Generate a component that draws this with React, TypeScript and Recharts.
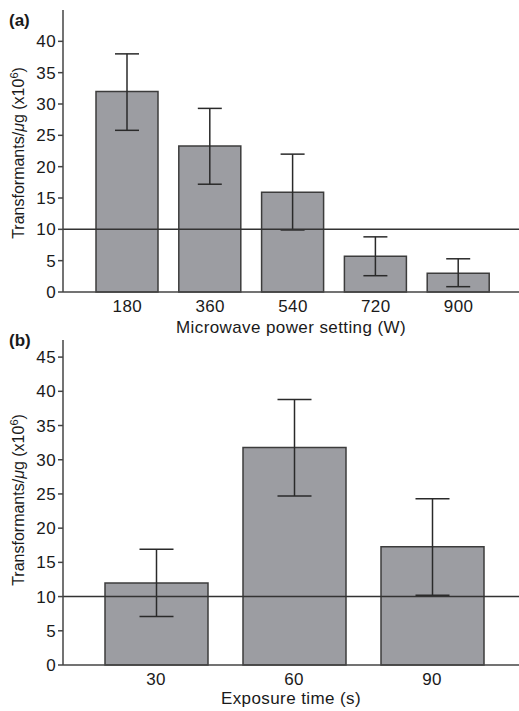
import { BarChart, Bar, XAxis, YAxis, ReferenceLine, ErrorBar } from 'recharts';

const FONT = '"Liberation Sans", Arial, Helvetica, sans-serif';
const INK = '#1a1a1a';
const AXIS = '#444';
const BAR_FILL = '#9c9da2';

// (a) microwave power
const powerSettings = ['180', '360', '540', '720', '900'];
const powerMeans = [32, 23.3, 15.9, 5.7, 3.0];
const powerUpper = [38, 29.3, 22, 8.8, 5.3];
const powerLower = [25.8, 17.2, 9.9, 2.6, 0.85];
const powerTicks = [0, 5, 10, 15, 20, 25, 30, 35, 40];

// (b) exposure time
const exposureTimes = ['30', '60', '90'];
const exposureMeans = [12, 31.8, 17.3];
const exposureUpper = [16.9, 38.8, 24.3];
const exposureLower = [7.1, 24.7, 10.2];
const exposureTicks = [0, 5, 10, 15, 20, 25, 30, 35, 40, 45];

const threshold = 10;

const buildRows = (names: string[], means: number[], lower: number[], upper: number[]) =>
  names.map((name, i) => ({
    name,
    value: means[i],
    err: [means[i] - lower[i], upper[i] - means[i]],
  }));

const powerData = buildRows(powerSettings, powerMeans, powerLower, powerUpper);
const exposureData = buildRows(exposureTimes, exposureMeans, exposureLower, exposureUpper);

// y title + panel letter, drawn in svg coords of each chart
const PanelDecor = ({ letter, cy, letterY }: { letter: string; cy: number; letterY: number }) => (
  <g fontFamily={FONT}>
    <text x={9} y={letterY} fontSize={17} fontWeight="bold" fill={INK}>
      {letter}
    </text>
    <text
      transform={`translate(24, ${cy}) rotate(-90)`}
      textAnchor="middle"
      fontSize={16}
      fill={INK}
    >
      Transformants/<tspan fontStyle="italic">μ</tspan>g (x10
      <tspan dy={-6} fontSize={11}>6</tspan>
      <tspan dy={6}>)</tspan>
    </text>
  </g>
);

const tickStyle = { fontSize: 17, fill: INK, fontFamily: FONT, letterSpacing: 0.4 };
const xTitle = { position: 'insideBottom', offset: 7, fontSize: 17, fill: INK, fontFamily: FONT, letterSpacing: 0.4 } as const;

export default function App() {
  return (
    <div style={{ position: 'absolute', left: 0, top: 0, width: 519, height: 711, background: '#fff' }}>
      <div style={{ position: 'absolute', left: 0, top: 0 }}>
        <BarChart width={519} height={340} data={powerData} margin={{ top: 10, right: 0, bottom: 0, left: 0 }}>
          <XAxis
            dataKey="name"
            height={48}
            padding={{ left: 23, right: 19 }}
            tickLine={false}
            tickSize={6}
            tickMargin={2}
            axisLine={{ stroke: AXIS, strokeWidth: 1.5 }}
            tick={tickStyle}
            label={{ value: 'Microwave power setting (W)', ...xTitle }}
          />
          <YAxis
            width={63}
            domain={[0, 45]}
            ticks={powerTicks}
            interval={0}
            tickSize={5}
            tickMargin={2}
            tickLine={{ stroke: AXIS, strokeWidth: 1.5 }}
            axisLine={{ stroke: AXIS, strokeWidth: 1.5 }}
            tick={tickStyle}
            label={<PanelDecor letter="(a)" cy={153} letterY={26} />}
          />
          <Bar dataKey="value" fill={BAR_FILL} stroke="#3c3c3c" strokeWidth={1.5} barSize={62} isAnimationActive={false}>
            <ErrorBar dataKey="err" direction="y" width={12} stroke="#2a2a2a" strokeWidth={1.5} />
          </Bar>
          <ReferenceLine y={threshold} stroke="#333" strokeWidth={1.5} />
        </BarChart>
      </div>
      <div style={{ position: 'absolute', left: 0, top: 320 }}>
        <BarChart width={519} height={391} data={exposureData} margin={{ top: 20, right: 0, bottom: 0, left: 0 }}>
          <XAxis
            dataKey="name"
            height={46}
            padding={{ left: 24, right: 18 }}
            tickLine={false}
            tickSize={6}
            tickMargin={2}
            axisLine={{ stroke: AXIS, strokeWidth: 1.5 }}
            tick={tickStyle}
            label={{ value: 'Exposure time (s)', ...xTitle }}
          />
          <YAxis
            width={63}
            domain={[0, 47.5]}
            ticks={exposureTicks}
            interval={0}
            tickSize={5}
            tickMargin={2}
            tickLine={{ stroke: AXIS, strokeWidth: 1.5 }}
            axisLine={{ stroke: AXIS, strokeWidth: 1.5 }}
            tick={tickStyle}
            label={<PanelDecor letter="(b)" cy={180} letterY={26} />}
          />
          <Bar dataKey="value" fill={BAR_FILL} stroke="#3c3c3c" strokeWidth={1.5} barSize={103} isAnimationActive={false}>
            <ErrorBar dataKey="err" direction="y" width={17} stroke="#2a2a2a" strokeWidth={1.5} />
          </Bar>
          <ReferenceLine y={threshold} stroke="#333" strokeWidth={1.5} />
        </BarChart>
      </div>
    </div>
  );
}
